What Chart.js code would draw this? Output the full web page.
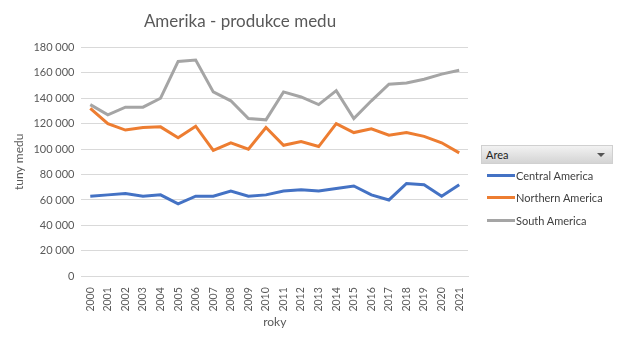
<!DOCTYPE html>
<html>
<head>
<meta charset="utf-8">
<script src="https://cdn.jsdelivr.net/npm/chart.js@4/dist/chart.umd.min.js"></script>
<style>
  html, body { margin: 0; padding: 0; background: #fff; }
  #wrap { position: relative; width: 619px; height: 342px; }
  #legend { position: absolute; left: 481px; top: 145px; width: 132px; font-family: Lato, "Open Sans", sans-serif; font-size: 11px; color: #404040; }
  #legend .head { height: 17px; line-height: 17px; padding-left: 4px; color: #222;
    background: linear-gradient(#f2f2f2, #d4d4d4); border: 1px solid #d0d0d0; position: relative; }
  #legend .head:after { content: ""; position: absolute; right: 7px; top: 7px;
    border-left: 4px solid transparent; border-right: 4px solid transparent; border-top: 4px solid #555; }
  #legend .item { height: 22.5px; display: flex; align-items: center; padding-left: 6px; }
  #legend .swatch { width: 28px; height: 3px; margin-right: 1px; }
</style>
</head>
<body>
<div id="wrap">
  <canvas id="c" width="619" height="342"></canvas>
  <div id="legend"><div class="head">Area</div></div>
</div>
<script>
const years = ["2000","2001","2002","2003","2004","2005","2006","2007","2008","2009","2010",
               "2011","2012","2013","2014","2015","2016","2017","2018","2019","2020","2021"];
const centralAmerica  = [63000,64000,65000,63000,64000,57000,63000,63000,67000,63000,64000,
                         67000,68000,67000,69000,71000,64000,60000,73000,72000,63000,72000];
const northernAmerica = [132000,120000,115000,117000,117500,109000,118000,99000,105000,100000,117000,
                         103000,106000,102000,120000,113000,116000,111000,113000,110000,105000,97000];
const southAmerica    = [135000,127000,133000,133000,140000,169000,170000,145000,138000,124000,123000,
                         145000,141000,135000,146000,124000,138000,151000,152000,155000,159000,162000];
const seriesNames  = ["Central America","Northern America","South America"];
const seriesColors = ["#4472c4","#ed7d31","#a5a5a5"];

const FONT = "Lato, 'Open Sans', sans-serif";
const TXT = "#595959";

const chart = new Chart(document.getElementById("c"), {
  type: "line",
  data: {
    labels: years,
    datasets: [centralAmerica, northernAmerica, southAmerica].map((d, i) => ({
      label: seriesNames[i],
      data: d,
      borderColor: seriesColors[i],
      backgroundColor: seriesColors[i],
      borderWidth: 3,
      pointRadius: 0,
      tension: 0,
      fill: false
    }))
  },
  options: {
    responsive: false,
    animation: false,
    layout: { padding: { left: 12, right: 151, top: 7, bottom: 13 } },
    plugins: {
      legend: { display: false },
      tooltip: { enabled: false },
      title: {
        display: true,
        text: "Amerika - produkce medu",
        color: TXT,
        font: { family: FONT, size: 17, weight: "normal" },
        padding: { top: 4, bottom: 16 }
      }
    },
    scales: {
      x: {
        offset: true,
        grid: { display: false },
        border: { color: "#d9d9d9" },
        ticks: { color: TXT, font: { family: FONT, size: 10.5 }, maxRotation: 90, minRotation: 90, autoSkip: false, padding: 3 },
        title: { display: true, text: "roky", color: TXT, font: { family: FONT, size: 12 }, padding: { top: 0, bottom: 0 } }
      },
      y: {
        min: 0, max: 180000,
        ticks: {
          stepSize: 20000,
          color: TXT,
          font: { family: FONT, size: 11 },
          padding: 7,
          callback: v => String(v).replace(/\B(?=(\d{3})+(?!\d))/g, "\u00a0")
        },
        grid: { color: "#d9d9d9", drawTicks: false },
        border: { display: false },
        title: { display: true, text: "tuny medu", color: TXT, font: { family: FONT, size: 12 }, padding: { top: 0, bottom: 0 } }
      }
    }
  }
});

// legend entries built from the chart's datasets
const legendBox = document.getElementById("legend");
chart.data.datasets.forEach(ds => {
  const row = document.createElement("div");
  row.className = "item";
  const sw = document.createElement("span");
  sw.className = "swatch";
  sw.style.background = ds.borderColor;
  const t = document.createElement("span");
  t.textContent = ds.label;
  row.appendChild(sw);
  row.appendChild(t);
  legendBox.appendChild(row);
});
</script>
</body>
</html>
